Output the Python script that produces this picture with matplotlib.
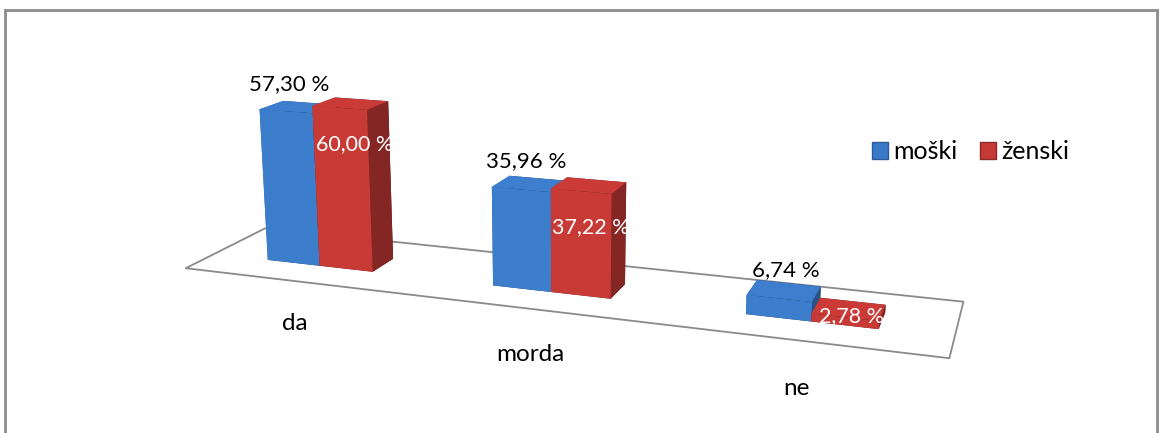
import numpy as np
import matplotlib.pyplot as plt
from matplotlib.patches import Patch, Rectangle
from mpl_toolkits.mplot3d.art3d import Poly3DCollection
from matplotlib.colors import LightSource

plt.rcParams['font.family'] = ['Lato', 'DejaVu Sans']

categories = ["da", "morda", "ne"]
moski = [57.30, 35.96, 6.74]
zenski = [60.00, 37.22, 2.78]
series_names = ["moški", "ženski"]

blue = "#448de6"
red = "#e1413d"

fig = plt.figure(figsize=(11.61, 4.33), dpi=100)
# square 3d axes (794 px), view fitted to the reference floor
ax = fig.add_axes([0.1311, -0.3931, 0.6843, 1.8349], projection='3d', computed_zorder=False)
ax.set_proj_type('persp', focal_length=0.334)
ax.view_init(elev=14.8, azim=-70.57)
ax.set_box_aspect((5.2, 1.072, 1.242))
ax.set_axis_off()

x = np.arange(len(categories))
bw = 0.24
depth = 0.3
y0 = 0.33
ls = LightSource(azdeg=195, altdeg=45)

# floor
floor = Poly3DCollection([[(-0.5, 0, 0), (2.5, 0, 0), (2.5, 1, 0), (-0.5, 1, 0)]],
                         facecolor="white", edgecolor="#8a8a8a", linewidth=1.3, zorder=0)
ax.add_collection3d(floor)
floor.set_clip_on(False)

b1 = ax.bar3d(x - bw, np.full(3, y0), np.zeros(3), bw, depth, moski,
              color=blue, shade=True, lightsource=ls, zorder=1)
b2 = ax.bar3d(x, np.full(3, y0), np.zeros(3), bw, depth, zenski,
              color=red, shade=True, lightsource=ls, zorder=2)
b1.set_clip_on(False)
b2.set_clip_on(False)

for i in range(len(categories)):
    ax.text(x[i] - bw / 2 + 0.02, y0, moski[i] + 6.5, f"{moski[i]:.2f} %".replace(".", ","),
            ha="center", va="bottom", fontsize=16, color="black", zorder=5, clip_on=False)
    zt = zenski[i] - 15 if zenski[i] > 10 else zenski[i] / 2 - 1
    ax.text(x[i] + bw / 2 + 0.01, y0 + depth / 2, zt,
            f"{zenski[i]:.2f} %".replace(".", ","),
            ha="center", va="center", fontsize=15.5, color="white", zorder=5, clip_on=False)
    ax.text(x[i] - 0.01, 0, -16.5, categories[i], ha="center", va="center",
            fontsize=17.5, zorder=5, clip_on=False)

ax.set_xlim(-0.5, 2.5)
ax.set_ylim(0, 1)
ax.set_zlim(0, 65)

handles = [Patch(facecolor="#3a78c8", edgecolor="#2a5a9a"),
           Patch(facecolor="#c63a36", edgecolor="#8a2a28")]
fig.legend(handles, series_names, loc="center left", bbox_to_anchor=(0.732, 0.65),
           ncol=2, frameon=False, fontsize=18, handlelength=0.64, handleheight=0.64,
           handletextpad=0.2, columnspacing=0.9)

fig.patches.append(Rectangle((5 / 1161, -0.1), 1152 / 1161, 1.1 - 10 / 433,
                             transform=fig.transFigure, fill=False,
                             edgecolor="#8c8c8c", linewidth=2))

fig.savefig("out.png", dpi=100)
